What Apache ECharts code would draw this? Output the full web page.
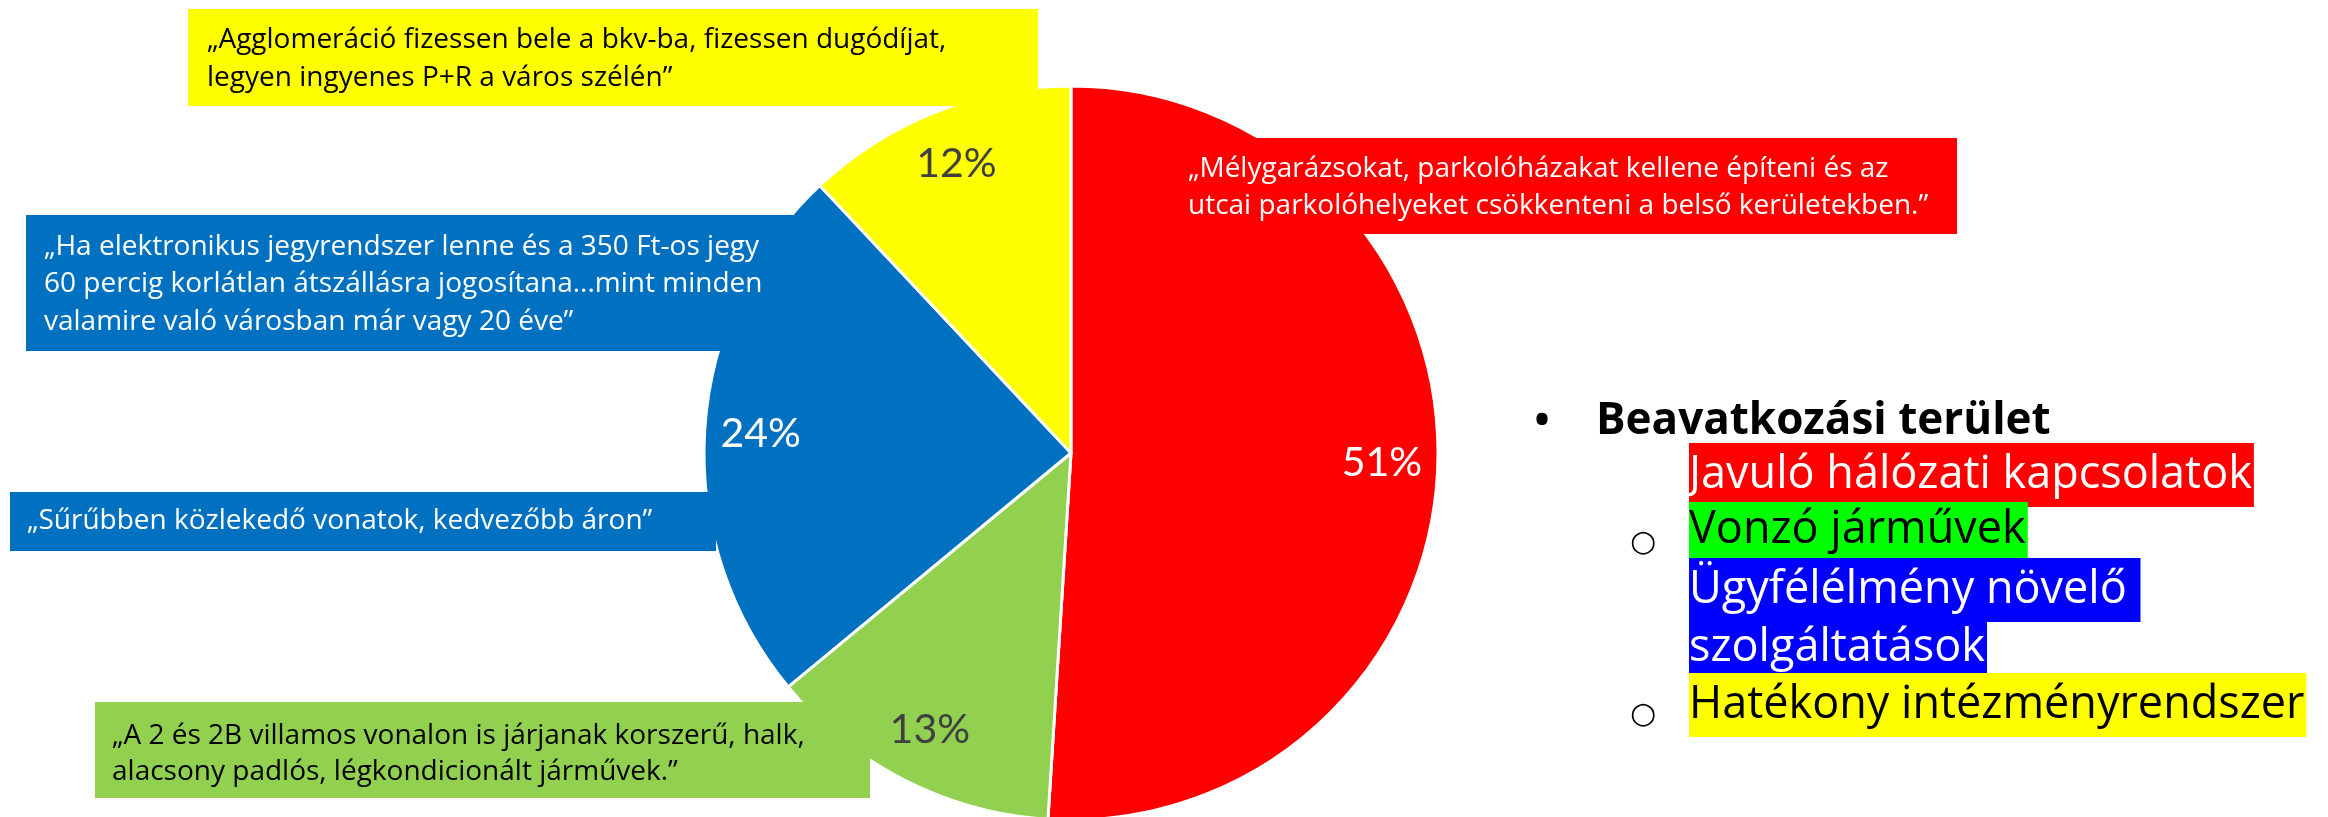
<!DOCTYPE html>
<html>
<head>
<meta charset="utf-8">
<script src="https://cdn.jsdelivr.net/npm/echarts@6/dist/echarts.min.js"></script>
<style>
html,body{margin:0;padding:0;background:#fff;}
#chart{width:2328px;height:817px;}
</style>
</head>
<body>
<div id="chart"></div>
<script>
// ---- data ----
const categories = ['Javuló hálózati kapcsolatok', 'Vonzó járművek', 'Ügyfélélmény növelő szolgáltatások', 'Hatékony intézményrendszer'];
const values = [51, 13, 24, 12];
const sliceColors = ['#FF0000', '#92D050', '#0070C0', '#FFFF00'];
const labelColors = ['#FFFFFF', '#404040', '#FFFFFF', '#404040'];

const quoteYellow = ['„Agglomeráció fizessen bele a bkv-ba, fizessen dugódíjat,', 'legyen ingyenes P+R a város szélén”'];
const quoteBlue1 = ['„Ha elektronikus jegyrendszer lenne és a 350 Ft-os jegy', '60 percig korlátlan átszállásra jogosítana...mint minden', 'valamire való városban már vagy 20 éve”'];
const quoteBlue2 = ['„Sűrűbben közlekedő vonatok, kedvezőbb áron”'];
const quoteGreen = ['„A 2 és 2B villamos vonalon is járjanak korszerű, halk,', 'alacsony padlós, légkondicionált járművek.”'];
const quoteRed = ['„Mélygarázsokat, parkolóházakat kellene építeni és az', 'utcai parkolóhelyeket csökkenteni a belső kerületekben.”'];

const legendTitle = 'Beavatkozási terület';
const legendLines = ['Javuló hálózati kapcsolatok', 'Vonzó járművek', 'Ügyfélélmény növelő ', 'szolgáltatások', 'Hatékony intézményrendszer'];
const legendBg = ['#FF0000', '#00FF00', '#0000FF', '#0000FF', '#FFFF00'];
const legendFg = ['#FFFFFF', '#000000', '#FFFFFF', '#FFFFFF', '#000000'];

// ---- chart ----
const FONT = '"Open Sans", Lato, sans-serif';
const chart = echarts.init(document.getElementById('chart'), null, {renderer: 'canvas'});

const pieData = categories.map((c, i) => ({
  name: c, value: values[i],
  itemStyle: {color: sliceColors[i]}
}));
const labelData = categories.map((c, i) => ({
  name: c, value: values[i],
  label: {color: labelColors[i]}
}));

function quoteBox(x, y, w, h, tx, ty, lh, lines, bg, fg, fs) {
  return {
    type: 'group', z: 100,
    children: [
      {type: 'rect', shape: {x: x, y: y, width: w, height: h}, style: {fill: bg}, z: 100},
      {type: 'text', z: 101, style: {x: tx, y: ty, text: lines.join('\n'), fill: fg,
        font: fs + 'px ' + FONT, lineHeight: lh, verticalAlign: 'top', align: 'left'}}
    ]
  };
}

const QF = 28;
const graphics = [
  quoteBox(188, 9, 850, 97, 207, 21, 38, quoteYellow, '#FFFF00', '#000000', QF),
  quoteBox(26, 215, 767, 136, 44, 228, 37.5, quoteBlue1, '#0070C0', '#FFFFFF', QF),
  quoteBox(10, 492, 706, 59, 27, 503, 37, quoteBlue2, '#0070C0', '#FFFFFF', QF),
  quoteBox(95, 702, 775, 96, 112, 718, 36, quoteGreen, '#92D050', '#000000', QF),
  quoteBox(1170, 138, 787, 96, 1188, 151, 37, quoteRed, '#FF0000', '#FFFFFF', QF),
  {type: 'text', z: 100, style: {x: 1542, y: 422, text: '•', font: 'bold 40px ' + FONT, fill: '#000', align: 'center', verticalAlign: 'middle'}},
  {type: 'text', z: 100, style: {x: 1596, y: 421, text: legendTitle, font: 'bold 44px ' + FONT, fill: '#000', align: 'left', verticalAlign: 'middle'}},
  {type: 'text', z: 100, style: {x: 1643, y: 543, text: '○', font: '30px "DejaVu Sans", sans-serif', fill: '#000', align: 'center', verticalAlign: 'middle'}},
  {type: 'text', z: 100, style: {x: 1643, y: 715, text: '○', font: '30px "DejaVu Sans", sans-serif', fill: '#000', align: 'center', verticalAlign: 'middle'}}
];
const legendY = [475, 530, 590, 648, 705];
const legendH = [64, 56, 64, 52, 64];
legendLines.forEach((t, i) => {
  graphics.push({type: 'text', z: 100, style: {
    x: 1689, y: legendY[i], text: t, font: '45px ' + FONT, fill: legendFg[i],
    backgroundColor: legendBg[i], lineHeight: legendH[i], padding: [0, 2, 0, 0],
    align: 'left', verticalAlign: 'middle'}});
});

chart.setOption({
  animation: false,
  backgroundColor: '#FFFFFF',
  series: [
    {
      type: 'pie', center: [1071, 453], radius: [0, 367],
      startAngle: 90, clockwise: true, silent: true,
      itemStyle: {borderColor: '#FFFFFF', borderWidth: 3},
      label: {show: false}, labelLine: {show: false},
      data: pieData, z: 1
    },
    {
      type: 'pie', center: [1071, 453], radius: [249, 367],
      startAngle: 90, clockwise: true, silent: true,
      itemStyle: {color: 'rgba(0,0,0,0)', borderWidth: 0},
      label: {show: true, position: 'inside', formatter: '{c}%', fontSize: 41, fontFamily: 'Lato, sans-serif'},
      labelLine: {show: false},
      data: labelData, z: 2
    }
  ],
  graphic: graphics
});
</script>
</body>
</html>
